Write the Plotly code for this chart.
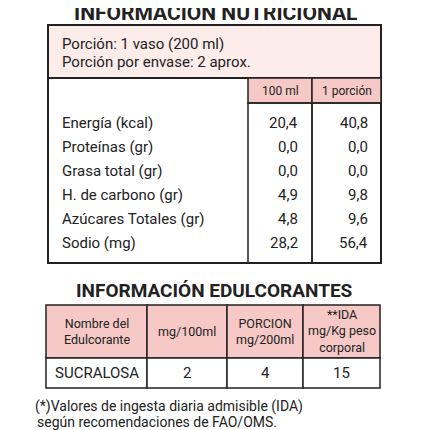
import plotly.graph_objects as go

nutrientes = ["Energía (kcal)", "Proteínas (gr)", "Grasa total (gr)", "H. de carbono (gr)",
              "Azúcares Totales (gr)", "Sodio (mg)"]
por_100ml = ["20,4", "0,0", "0,0", "4,9", "4,8", "28,2"]
por_porcion = ["40,8", "0,0", "0,0", "9,8", "9,6", "56,4"]
col_nutri = ["100 ml", "1 porción"]

edul_headers = ["Nombre del<br>Edulcorante", "mg/100ml", "PORCION<br>mg/200ml", "**IDA<br>mg/Kg peso<br>corporal"]
edul_row = ["SUCRALOSA", "2", "4", "15"]

FONT = "Liberation Sans Narrow, Roboto, sans-serif"
PINK = "#f6c9c6"
LIGHT = "#fcecea"
fig = go.Figure()
shapes = []
ann = []

def rect(x0, y0, x1, y1, fill="rgba(0,0,0,0)", w=1.5):
    shapes.append(dict(type="rect", x0=x0, y0=y0, x1=x1, y1=y1, fillcolor=fill,
                       line=dict(color="#222", width=w), layer="below"))

def text(x, y, s, size=14, anchor="center", bold=False):
    ann.append(dict(x=x, y=y, text=f"<b>{s}</b>" if bold else s, showarrow=False,
                    xanchor=anchor, yanchor="middle", font=dict(family=FONT, size=size, color="#222")))

text(215, 13, "INFORMACIÓN NUTRICIONAL", 21, bold=True)
rect(48, 25, 381, 263, "white", 2)
rect(48, 25, 381, 78, LIGHT, 2)
text(60, 44, "Porción: 1 vaso (200 ml)", 15, "left")
text(60, 62, "Porción por envase: 2 aprox.", 15, "left")
cols = [248, 312, 381]
for i, h in enumerate(col_nutri):
    rect(cols[i], 78, cols[i + 1], 103, PINK)
    text((cols[i] + cols[i + 1]) / 2, 91, h, 12)
    rect(cols[i], 103, cols[i + 1], 263)
for j, n in enumerate(nutrientes):
    y = 123 + j * 24
    text(60, y, n, 15, "left")
    text(300, y, por_100ml[j], 15, "right")
    text(370, y, por_porcion[j], 15, "right")

text(214, 290, "INFORMACIÓN EDULCORANTES", 19, bold=True)
ecols = [46, 147, 227, 303, 380]
for i in range(4):
    rect(ecols[i], 305, ecols[i + 1], 358, PINK)
    text((ecols[i] + ecols[i + 1]) / 2, 331, edul_headers[i], 12.5)
    rect(ecols[i], 358, ecols[i + 1], 388, "white")
    text((ecols[i] + ecols[i + 1]) / 2, 373, edul_row[i], 15)
text(33, 406, "(*)Valores de ingesta diaria admisible (IDA)", 14, "left")
text(35, 422, "según recomendaciones de FAO/OMS.", 14, "left")

# page has an 8px body offset, so shift the visible window to compensate
fig.update_layout(width=430, height=430, margin=dict(l=0, r=0, t=0, b=0),
                  paper_bgcolor="white", plot_bgcolor="white", shapes=shapes, annotations=ann,
                  xaxis=dict(range=[8, 438], visible=False, fixedrange=True),
                  yaxis=dict(range=[438, 8], visible=False, fixedrange=True), showlegend=False)
fig.write_html("out.html")
